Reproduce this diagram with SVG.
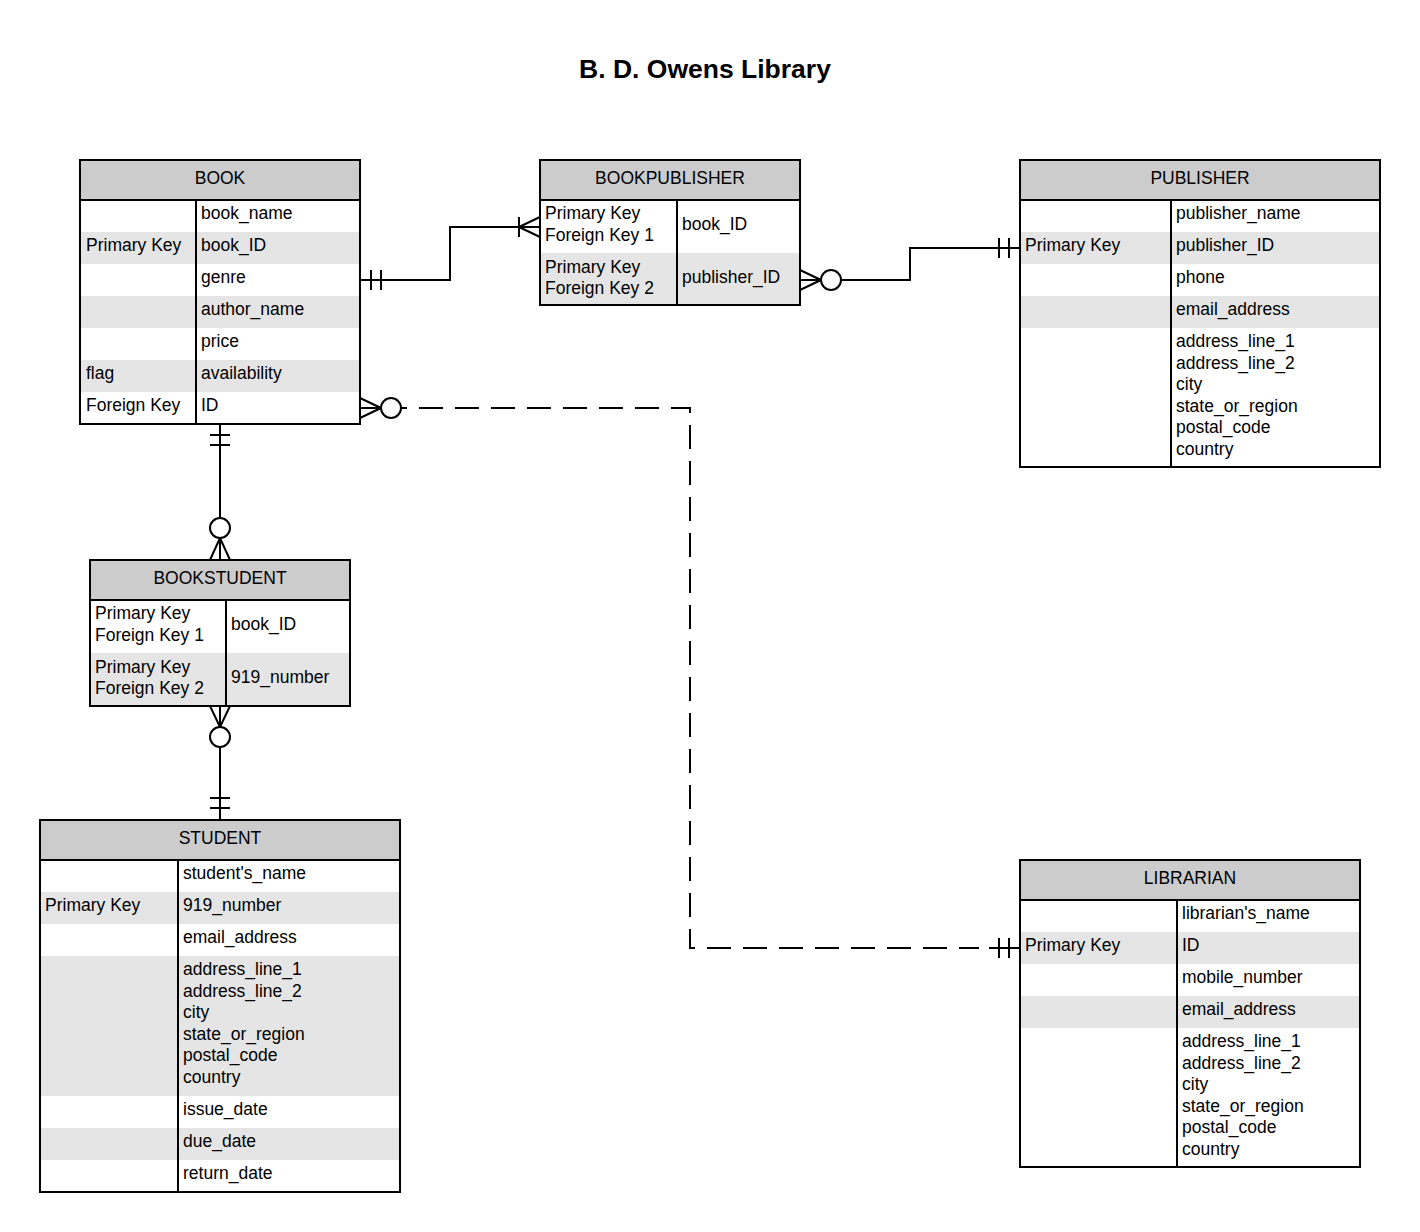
<svg xmlns="http://www.w3.org/2000/svg" width="1420" height="1232" viewBox="0 0 1420 1232">
<style>
text{font-family:"Liberation Sans",Arial,sans-serif;font-size:17.5px;fill:#000}
.title{font-size:26.5px;font-weight:bold}
.hd{fill:#cccccc}
.alt{fill:#e5e5e5}
.frame{fill:none;stroke:#000;stroke-width:2}
.ln{stroke:#000;stroke-width:2;fill:none}
.dash{stroke:#000;stroke-width:2;fill:none;stroke-dasharray:24 12;stroke-dashoffset:18}
.circ{fill:#fff;stroke:#000;stroke-width:2}
.c{text-anchor:middle}
</style>
<rect width="1420" height="1232" fill="#fff"/>
<text class="title c" x="705" y="78">B. D. Owens Library</text>

<g id="connectors">
  <!-- BOOK -> BOOKPUBLISHER -->
  <path class="ln" d="M360,280 H450 V227 H540"/>
  <path class="ln" d="M371,270 V290 M381,270 V290"/>
  <path class="ln" d="M519,217 V237 M519,227 L540,217 M519,227 L540,237"/>
  <!-- PUBLISHER -> BOOKPUBLISHER -->
  <path class="ln" d="M1020,248 H910 V280 H841"/>
  <path class="ln" d="M999,238 V258 M1009,238 V258"/>
  <path class="ln" d="M800,280 H821 M821,280 L800,270 M821,280 L800,290"/>
  <circle class="circ" cx="831" cy="280" r="10"/>
  <!-- BOOK -> LIBRARIAN (dashed) -->
  <path class="ln" d="M360,408 H381 M381,408 L360,398 M381,408 L360,418"/>
  <circle class="circ" cx="391" cy="408" r="10"/>
  <path class="dash" d="M401,408 H690 V948 H979"/>
  <path class="ln" d="M989,948 H1020"/>
  <path class="ln" d="M999,938 V958 M1009,938 V958"/>
  <!-- BOOK -> BOOKSTUDENT -->
  <path class="ln" d="M220,424 V518"/>
  <path class="ln" d="M210,435 H230 M210,445 H230"/>
  <circle class="circ" cx="220" cy="528" r="10"/>
  <path class="ln" d="M220,538 V560 M220,538 L210,560 M220,538 L230,560"/>
  <!-- BOOKSTUDENT -> STUDENT -->
  <path class="ln" d="M220,706 V727 M220,727 L210,706 M220,727 L230,706"/>
  <circle class="circ" cx="220" cy="737" r="10"/>
  <path class="ln" d="M220,747 V820"/>
  <path class="ln" d="M210,798 H230 M210,808 H230"/>
</g>

<g id="book">
  <rect x="80" y="160" width="280" height="264" fill="#fff"/>
  <rect class="hd" x="80" y="160" width="280" height="40"/>
  <rect class="alt" x="80" y="232" width="280" height="32"/>
  <rect class="alt" x="80" y="296" width="280" height="32"/>
  <rect class="alt" x="80" y="360" width="280" height="32"/>
  <path class="ln" d="M80,200 H360 M196,200 V424"/>
  <rect class="frame" x="80" y="160" width="280" height="264"/>
  <text class="c" x="220" y="183.5">BOOK</text>
  <text x="201" y="219">book_name</text>
  <text x="86" y="251">Primary Key</text><text x="201" y="251">book_ID</text>
  <text x="201" y="283">genre</text>
  <text x="201" y="315">author_name</text>
  <text x="201" y="347">price</text>
  <text x="86" y="379">flag</text><text x="201" y="379">availability</text>
  <text x="86" y="411">Foreign Key</text><text x="201" y="411">ID</text>
</g>

<g id="bookpublisher">
  <rect x="540" y="160" width="260" height="145" fill="#fff"/>
  <rect class="hd" x="540" y="160" width="260" height="40"/>
  <rect class="alt" x="540" y="253" width="260" height="52"/>
  <path class="ln" d="M540,200 H800 M677,200 V305"/>
  <rect class="frame" x="540" y="160" width="260" height="145"/>
  <text class="c" x="670" y="183.5">BOOKPUBLISHER</text>
  <text x="545" y="219">Primary Key</text>
  <text x="545" y="240.5">Foreign Key 1</text>
  <text x="682" y="230">book_ID</text>
  <text x="545" y="272.5">Primary Key</text>
  <text x="545" y="294">Foreign Key 2</text>
  <text x="682" y="282.5">publisher_ID</text>
</g>

<g id="publisher">
  <rect x="1020" y="160" width="360" height="307" fill="#fff"/>
  <rect class="hd" x="1020" y="160" width="360" height="40"/>
  <rect class="alt" x="1020" y="232" width="360" height="32"/>
  <rect class="alt" x="1020" y="296" width="360" height="32"/>
  <path class="ln" d="M1020,200 H1380 M1171,200 V467"/>
  <rect class="frame" x="1020" y="160" width="360" height="307"/>
  <text class="c" x="1200" y="183.5">PUBLISHER</text>
  <text x="1176" y="219">publisher_name</text>
  <text x="1025" y="251">Primary Key</text><text x="1176" y="251">publisher_ID</text>
  <text x="1176" y="283">phone</text>
  <text x="1176" y="315">email_address</text>
  <text x="1176" y="347">address_line_1</text>
  <text x="1176" y="368.6">address_line_2</text>
  <text x="1176" y="390.2">city</text>
  <text x="1176" y="411.8">state_or_region</text>
  <text x="1176" y="433.4">postal_code</text>
  <text x="1176" y="455">country</text>
</g>

<g id="bookstudent">
  <rect x="90" y="560" width="260" height="146" fill="#fff"/>
  <rect class="hd" x="90" y="560" width="260" height="40"/>
  <rect class="alt" x="90" y="653" width="260" height="53"/>
  <path class="ln" d="M90,600 H350 M226,600 V706"/>
  <rect class="frame" x="90" y="560" width="260" height="146"/>
  <text class="c" x="220" y="583.5">BOOKSTUDENT</text>
  <text x="95" y="619">Primary Key</text>
  <text x="95" y="640.5">Foreign Key 1</text>
  <text x="231" y="630">book_ID</text>
  <text x="95" y="672.5">Primary Key</text>
  <text x="95" y="694">Foreign Key 2</text>
  <text x="231" y="683">919_number</text>
</g>

<g id="student">
  <rect x="40" y="820" width="360" height="372" fill="#fff"/>
  <rect class="hd" x="40" y="820" width="360" height="40"/>
  <rect class="alt" x="40" y="892" width="360" height="32"/>
  <rect class="alt" x="40" y="956" width="360" height="140"/>
  <rect class="alt" x="40" y="1128" width="360" height="32"/>
  <path class="ln" d="M40,860 H400 M178,860 V1192"/>
  <rect class="frame" x="40" y="820" width="360" height="372"/>
  <text class="c" x="220" y="843.5">STUDENT</text>
  <text x="183" y="879">student's_name</text>
  <text x="45" y="911">Primary Key</text><text x="183" y="911">919_number</text>
  <text x="183" y="943">email_address</text>
  <text x="183" y="975">address_line_1</text>
  <text x="183" y="996.6">address_line_2</text>
  <text x="183" y="1018.2">city</text>
  <text x="183" y="1039.8">state_or_region</text>
  <text x="183" y="1061.4">postal_code</text>
  <text x="183" y="1083">country</text>
  <text x="183" y="1115">issue_date</text>
  <text x="183" y="1147">due_date</text>
  <text x="183" y="1179">return_date</text>
</g>

<g id="librarian">
  <rect x="1020" y="860" width="340" height="307" fill="#fff"/>
  <rect class="hd" x="1020" y="860" width="340" height="40"/>
  <rect class="alt" x="1020" y="932" width="340" height="32"/>
  <rect class="alt" x="1020" y="996" width="340" height="32"/>
  <path class="ln" d="M1020,900 H1360 M1177,900 V1167"/>
  <rect class="frame" x="1020" y="860" width="340" height="307"/>
  <text class="c" x="1190" y="883.5">LIBRARIAN</text>
  <text x="1182" y="919">librarian's_name</text>
  <text x="1025" y="951">Primary Key</text><text x="1182" y="951">ID</text>
  <text x="1182" y="983">mobile_number</text>
  <text x="1182" y="1015">email_address</text>
  <text x="1182" y="1047">address_line_1</text>
  <text x="1182" y="1068.6">address_line_2</text>
  <text x="1182" y="1090.2">city</text>
  <text x="1182" y="1111.8">state_or_region</text>
  <text x="1182" y="1133.4">postal_code</text>
  <text x="1182" y="1155">country</text>
</g>
</svg>
